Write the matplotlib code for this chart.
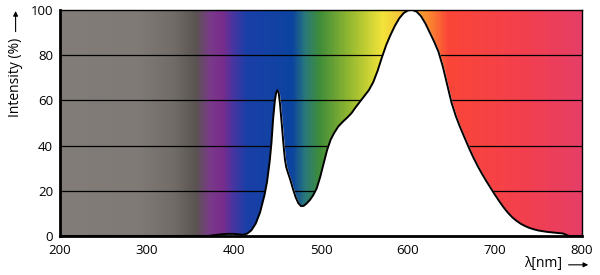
import numpy as np
import matplotlib
matplotlib.use("Agg")
import matplotlib.pyplot as plt
from matplotlib.colors import LinearSegmentedColormap
from matplotlib.patches import FancyArrowPatch

plt.rcParams["font.family"] = ["Open Sans", "DejaVu Sans"]

# spectrum
wavelength = [200, 370, 378, 385, 392, 400, 406, 410, 415, 420, 425, 430, 435, 438, 441, 443,
              445, 447, 448.5, 450, 451.5, 453, 455, 457, 458.5, 460, 462, 465, 468, 471,
              474, 477, 480, 483, 487, 491, 495, 499, 503, 507, 511, 515, 520, 525, 530,
              535, 540, 545, 550, 555, 560, 565, 570, 575, 580, 585, 590, 595, 600, 605,
              610, 615, 620, 625, 630, 635, 640, 645, 650, 655, 660, 665, 670, 675, 680,
              685, 690, 695, 700, 705, 710, 715, 720, 725, 730, 735, 740, 745, 750, 760,
              770, 778, 782, 785, 800]
intensity = [0, 0, 0.4, 0.7, 0.9, 0.9, 0.7, 0.5, 1, 2.5, 5.5, 10.5, 18, 24, 33, 41,
             52, 60, 63.5, 64.5, 63, 58, 49, 40, 34, 30.5, 28, 24.5, 20.5, 17,
             14.5, 13.2, 13.3, 14.2, 15.8, 18, 21, 26, 32, 38, 42.5, 45.5, 48.5, 50.5, 52.3,
             54.3, 57, 59.5, 62, 64.5, 68, 73, 79, 84.5, 89, 93, 96.3, 98.6, 99.8, 100,
             99.2, 97.2, 94, 90, 86, 81.5, 75, 67, 59, 53, 48, 43.5, 39, 34.8, 31,
             27.5, 24.3, 21.2, 18.2, 15.3, 12.6, 10.2, 8.2, 6.6, 5.3, 4.3, 3.5, 2.9, 2.4, 1.8,
             1.4, 1.1, 0.5, 0, 0]

# background colour stops (nm, colour)
stop_nm = [200, 290, 330, 355, 372, 387, 398, 414, 467, 482, 498, 536, 571, 600, 624, 647, 728, 800]
stop_col = ["#827d78", "#7f7a76", "#716c68", "#5a5550", "#7a3a8a", "#782c8c", "#4a35a0",
            "#1a3fa8", "#0c44a0", "#2a7a7a", "#3e8c3a", "#9abc30", "#f2e43a", "#f8b838",
            "#fa8a30", "#fa4638", "#f4404c", "#e63e66"]

fig = plt.figure(figsize=(6, 2.75), dpi=100)
ax = fig.add_axes([0.1, 0.142, 0.87, 0.822])

pos = [(v - 200) / 600 for v in stop_nm]
cmap = LinearSegmentedColormap.from_list("spec", list(zip(pos, stop_col)))
grad = np.linspace(0, 1, 600).reshape(1, -1)
ax.imshow(grad, cmap=cmap, aspect="auto", extent=[200, 800, 0, 100], zorder=0)

for g in [20, 40, 60, 80]:
    ax.axhline(g, color="black", lw=0.9, zorder=1)

ax.fill_between(wavelength, intensity, 0, color="white", zorder=2)
ax.plot(wavelength, intensity, color="black", lw=1.4, zorder=3)

ax.set_xlim(200, 800)
ax.set_ylim(0, 100)
ax.set_xticks([200, 300, 400, 500, 600, 700, 800])
ax.set_yticks([0, 20, 40, 60, 80, 100])
ax.tick_params(length=0, labelsize=9.5)
ax.tick_params(axis="x", pad=6)
ax.tick_params(axis="y", pad=5)
for s in ["left", "bottom"]:
    ax.spines[s].set_linewidth(2)
for s in ["top", "right"]:
    ax.spines[s].set_linewidth(1)

fig.text(0.026, 0.72, "Intensity (%)", rotation=90, ha="center", va="center", fontsize=10)
fig.add_artist(FancyArrowPatch((0.026, 0.875), (0.026, 0.97), transform=fig.transFigure,
                               arrowstyle="-|>", mutation_scale=7, lw=0.8, color="black"))
fig.text(0.905, 0.042, "λ[nm]", ha="center", va="center", fontsize=10)
fig.add_artist(FancyArrowPatch((0.943, 0.037), (0.985, 0.037), transform=fig.transFigure,
                               arrowstyle="-|>", mutation_scale=7, lw=0.8, color="black"))

fig.savefig("out.png", dpi=100)
